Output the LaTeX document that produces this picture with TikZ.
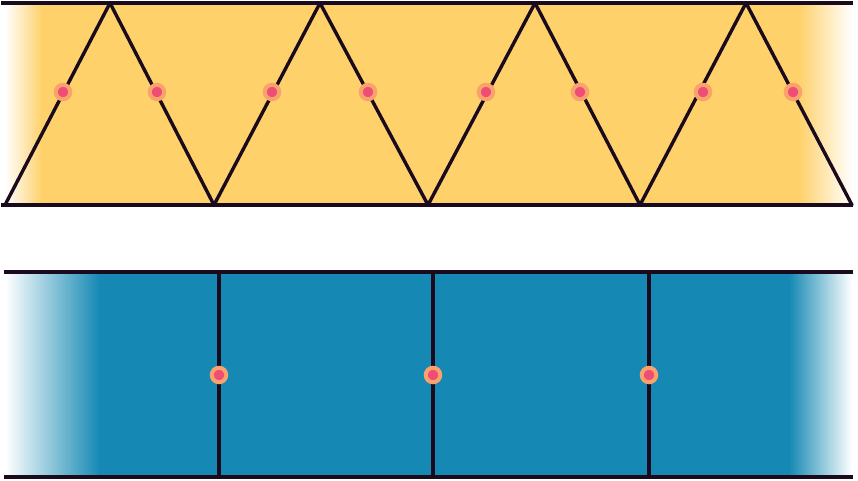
\documentclass[tikz,border=0pt]{standalone}
\usepackage{tikz}
\definecolor{yel}{HTML}{FED16B}
\definecolor{blu}{HTML}{1589B3}
\definecolor{ink}{HTML}{1A0A1E}
\definecolor{ring}{HTML}{F9A26C}
\definecolor{dotc}{HTML}{EF4D75}
\tikzset{
  member/.style={draw=ink, line width=3.4pt, line cap=round, line join=round},
  chord/.style={draw=ink, line width=3.5pt},
  joint/.style={circle, minimum size=14.5pt, inner sep=0pt, fill=dotc, draw=ring, line width=4pt}
}
\begin{document}
\begin{tikzpicture}[x=1pt,y=-1pt]
\useasboundingbox (0,0) rectangle (858,480);
% top band fill
\shade[left color=white, right color=yel] (5,3) rectangle (42,205);
\fill[yel] (41,3) rectangle (800,205);
\shade[left color=yel, right color=white] (799,3) rectangle (852,205);
% bottom band fill
\shade[left color=white, right color=blu] (5,272) rectangle (100,477);
\fill[blu] (99,272) rectangle (790,477);
\shade[left color=blu, right color=white] (789,272) rectangle (852,477);
% top truss coordinates
\coordinate (tl) at (1,3);
\coordinate (tr) at (853,3);
\coordinate (bl) at (1,205);
\coordinate (br) at (853,205);
\coordinate (b0) at (5,205);
\coordinate (t1) at (110,3);
\coordinate (b1) at (214,205);
\coordinate (t2) at (320,3);
\coordinate (b2) at (428,205);
\coordinate (t3) at (535,3);
\coordinate (b3) at (640,205);
\coordinate (t4) at (746,3);
\coordinate (b4) at (852,205);
\draw[chord] (tl) -- (tr);
\draw[chord] (bl) -- (br);
\draw[member] (b0) -- (t1) -- (b1) -- (t2) -- (b2) -- (t3) -- (b3) -- (t4) -- (b4);
% top joints
\node[joint] (j1) at (63,92) {};
\node[joint] (j2) at (157,92) {};
\node[joint] (j3) at (272,92) {};
\node[joint] (j4) at (368,92) {};
\node[joint] (j5) at (486,92) {};
\node[joint] (j6) at (580,92) {};
\node[joint] (j7) at (703,92) {};
\node[joint] (j8) at (793,92) {};
% bottom frame
\coordinate (ul) at (4,272);
\coordinate (ur) at (853,272);
\coordinate (ll) at (4,477);
\coordinate (lr) at (853,477);
\coordinate (v1t) at (219,272);
\coordinate (v1b) at (219,477);
\coordinate (v2t) at (433,272);
\coordinate (v2b) at (433,477);
\coordinate (v3t) at (649,272);
\coordinate (v3b) at (649,477);
\draw[chord] (ul) -- (ur);
\draw[chord] (ll) -- (lr);
\draw[chord] (v1t) -- (v1b);
\draw[chord] (v2t) -- (v2b);
\draw[chord] (v3t) -- (v3b);
\node[joint] (k1) at (219,375) {};
\node[joint] (k2) at (433,375) {};
\node[joint] (k3) at (649,375) {};
\end{tikzpicture}
\end{document}
